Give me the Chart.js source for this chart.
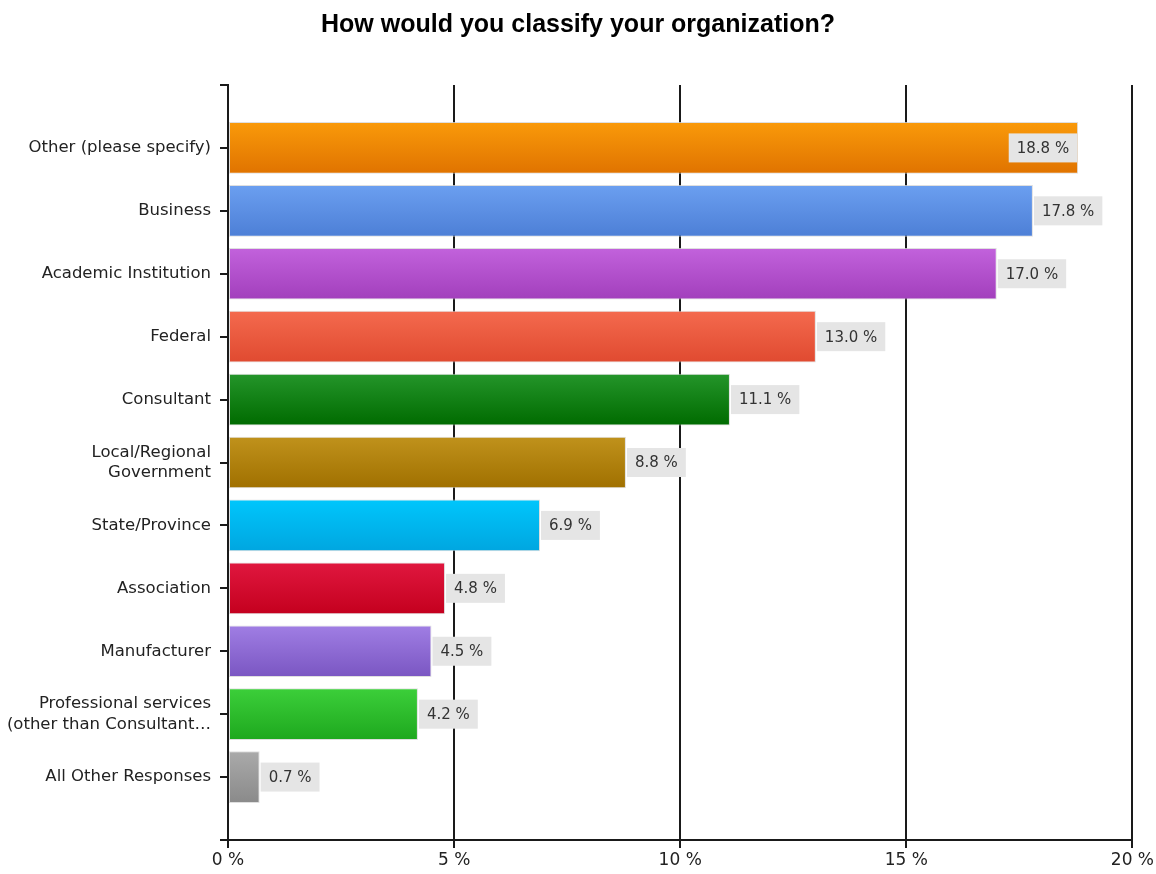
<!DOCTYPE html>
<html>
<head>
<meta charset="utf-8">
<script src="https://cdn.jsdelivr.net/npm/chart.js@4.4.1/dist/chart.umd.min.js"></script>
<style>
  html, body { margin: 0; padding: 0; background: #ffffff; }
  #wrap { width: 1156px; height: 874px; position: relative; }
</style>
</head>
<body>
<div id="wrap"><canvas id="c" width="1156" height="874"></canvas></div>
<script>
const chartTitle = 'How would you classify your organization?';
const categories = [
  'Other (please specify)',
  'Business',
  'Academic Institution',
  'Federal',
  'Consultant',
  ['Local/Regional', 'Government'],
  'State/Province',
  'Association',
  'Manufacturer',
  ['Professional services', '(other than Consultant\u2026'],
  'All Other Responses'
];
const percentValues = [18.8, 17.8, 17.0, 13.0, 11.1, 8.8, 6.9, 4.8, 4.5, 4.2, 0.7];
const colorTop = ['#fa9a0a', '#6b9ff0', '#c262dc', '#f46a4e', '#24952a', '#c0921c', '#00c6fc', '#e0173f', '#a07ee4', '#3ccf3a', '#aaaaaa'];
const colorBottom = ['#e07300', '#4d7fd6', '#a23fbc', '#e04a30', '#006b00', '#a07000', '#00a6e0', '#c4001e', '#7a56c2', '#1ea81e', '#8a8a8a'];
const xTicks = [0, 5, 10, 15, 20];

// pad the category axis with an empty slot at each end
const yLabels = [''].concat(categories, ['']);
const yData = [null].concat(percentValues, [null]);

const BAR_PCT = 0.82;

function barGradient(ctx) {
  const chart = ctx.chart;
  const i = ctx.dataIndex - 1;
  if (i < 0 || i >= percentValues.length) return '#ccc';
  const ys = chart.scales && chart.scales.y;
  if (!ys || !chart.chartArea) return colorTop[i];
  const cy = ys.getPixelForValue(ctx.dataIndex);
  const step = Math.abs(ys.getPixelForValue(1) - ys.getPixelForValue(0));
  const h = step * BAR_PCT;
  const g = chart.ctx.createLinearGradient(0, cy - h / 2, 0, cy + h / 2);
  g.addColorStop(0, colorTop[i]);
  g.addColorStop(1, colorBottom[i]);
  return g;
}

const titlePlugin = {
  id: 'centeredTitle',
  afterDraw(chart) {
    const c = chart.ctx;
    c.save();
    c.font = 'bold 25px "Liberation Sans", Arial, sans-serif';
    c.fillStyle = '#000000';
    c.textAlign = 'center';
    c.textBaseline = 'middle';
    c.fillText(chartTitle, chart.width / 2, 25);
    c.restore();
  }
};

const valueLabels = {
  id: 'valueLabels',
  afterDatasetsDraw(chart) {
    const c = chart.ctx;
    const meta = chart.getDatasetMeta(0);
    const area = chart.chartArea;
    c.save();
    c.font = '15px "DejaVu Sans"';
    c.textBaseline = 'middle';
    c.textAlign = 'left';
    meta.data.forEach((el, idx) => {
      const v = yData[idx];
      if (v === null || v === undefined) return;
      const txt = v.toFixed(1) + ' %';
      const tw = c.measureText(txt).width;
      const bw = tw + 16, bh = 29;
      let bx = el.x + 1;
      if (bx + bw > area.right) bx = el.x - bw - 1;
      const by = el.y - bh / 2;
      c.fillStyle = '#e5e5e5';
      c.fillRect(bx, by, bw, bh);
      c.fillStyle = '#333333';
      c.fillText(txt, bx + 8, el.y + 1);
    });
    c.restore();
  }
};

new Chart(document.getElementById('c'), {
  type: 'bar',
  data: {
    labels: yLabels,
    datasets: [{
      data: yData,
      backgroundColor: barGradient,
      borderColor: 'rgba(215,215,215,0.8)',
      borderWidth: 1,
      borderSkipped: false,
      categoryPercentage: 1,
      barPercentage: BAR_PCT
    }]
  },
  options: {
    indexAxis: 'y',
    responsive: false,
    animation: false,
    layout: { padding: { left: 0, right: 23, top: 85, bottom: 0 } },
    plugins: {
      legend: { display: false },
      tooltip: { enabled: false },
      title: { display: false }
    },
    scales: {
      x: {
        type: 'linear',
        min: 0,
        max: 20,
        position: 'bottom',
        afterBuildTicks: (s) => { s.ticks = xTicks.map(v => ({ value: v })); },
        afterFit: (s) => { s.height = 34; },
        ticks: {
          callback: (v) => v + ' %',
          color: '#222222',
          font: { family: '"DejaVu Sans", sans-serif', size: 17 },
          padding: 2,
          maxRotation: 0
        },
        grid: { color: '#1a1a1a', lineWidth: 2, tickLength: 8, drawOnChartArea: true },
        border: { display: true, color: '#1a1a1a', width: 2 }
      },
      y: {
        type: 'category',
        offset: false,
        afterFit: (s) => { s.width = 228; },
        ticks: {
          autoSkip: false,
          color: '#222222',
          font: { family: '"DejaVu Sans", sans-serif', size: 16.5, lineHeight: 1.22 },
          padding: 9
        },
        grid: { color: '#1a1a1a', lineWidth: 2, tickLength: 8, drawOnChartArea: false, offset: false },
        border: { display: true, color: '#1a1a1a', width: 2 }
      }
    }
  },
  plugins: [valueLabels, titlePlugin]
});
</script>
</body>
</html>
